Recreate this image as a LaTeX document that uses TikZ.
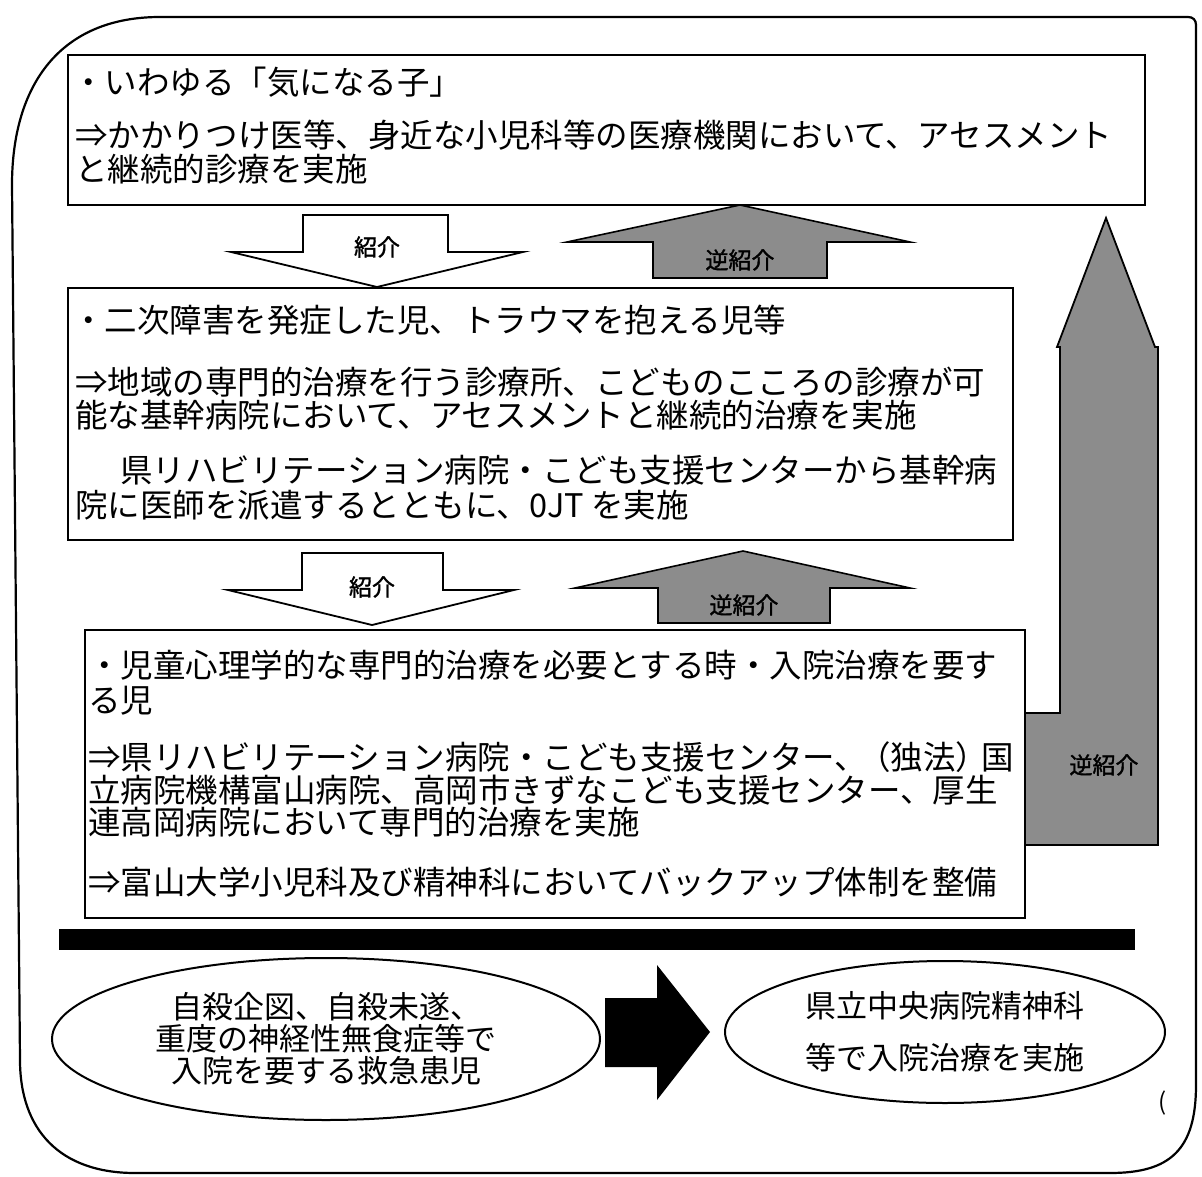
\documentclass[tikz,border=0pt]{standalone}
\usepackage{fontspec}
\setmainfont{Noto Sans CJK JP}
\newfontfamily\heavycjk{Noto Sans CJK JP}[FakeBold=1.5]
\usetikzlibrary{shapes.geometric}
\begin{document}
\begin{tikzpicture}[x=1pt,y=-1pt,
  boxframe/.style={draw, line width=2pt, inner sep=0pt, outer sep=0pt, anchor=north west},
  txt/.style={anchor=base west, inner sep=0pt, font=\fontsize{32.5}{34}\selectfont},
  grayarrow/.style={draw, line width=1.6pt, fill=black!45},
  whitearrow/.style={draw, line width=1.8pt, fill=white},
  lbl/.style={inner sep=0pt, font=\heavycjk\fontsize{23}{25}\selectfont},
  ovalbox/.style={draw, ellipse, line width=2pt, inner sep=0pt, align=center},
]
\useasboundingbox (0,0) rectangle (1202,1177);

% outer frame
\draw[line width=2.2pt] (1196,25) -- (1196,1085)
  .. controls (1196,1150) and (1170,1173) .. (1110,1173)
  -- (135,1173)
  .. controls (60,1173) and (20,1130) .. (20,1060)
  -- (12,185)
  .. controls (12,85) and (60,17) .. (160,17)
  -- (1188,17)
  .. controls (1193,17) and (1196,20) .. cycle;

% tall return arrow (behind box 3)
\draw[grayarrow, line width=1.8pt] (1025,845) -- (1025,713) -- (1060,713) -- (1060,347)
  -- (1057,347) -- (1106,218) -- (1155,347) -- (1158,347) -- (1158,845) -- cycle;
\node[lbl] (rl3) at (1104,765) {逆紹介};

% box 1
\node[boxframe, minimum width=1077pt, minimum height=150pt] (b1) at (68,55) {};
\node[txt] (b1l1) at (72,95) {・いわゆる「気になる子」};
\node[txt] (b1l2) at (75,148) {⇒かかりつけ医等、身近な小児科等の医療機関において、アセスメント};
\node[txt] (b1l3) at (75,182) {と継続的診療を実施};

% arrows between box 1 and box 2
\draw[whitearrow] (303,215) -- (448,215) -- (448,252) -- (523,252) -- (377,287)
  -- (231,252) -- (303,252) -- cycle;
\node[lbl] (ref1) at (377,247) {紹介};
\draw[grayarrow] (653,278) -- (653,242) -- (567,242) -- (740,205) -- (910,242)
  -- (827,242) -- (827,278) -- cycle;
\node[lbl] (rl1) at (740,260) {逆紹介};

% box 2
\node[boxframe, minimum width=945pt, minimum height=252pt] (b2) at (68,288) {};
\node[txt] (b2l1) at (72,332) {・二次障害を発症した児、トラウマを抱える児等};
\node[txt] (b2l2) at (75,394) {⇒地域の専門的治療を行う診療所、こどものこころの診療が可};
\node[txt] (b2l3) at (75,427) {能な基幹病院において、アセスメントと継続的治療を実施};
\node[txt] (b2l4) at (120,482) {県リハビリテーション病院・こども支援センターから基幹病};
\node[txt] (b2l5) at (75,517) {院に医師を派遣するとともに、0JT を実施};

% arrows between box 2 and box 3
\draw[whitearrow] (302,553) -- (443,553) -- (443,590) -- (514,590) -- (372,625)
  -- (228,590) -- (302,590) -- cycle;
\node[lbl] (ref2) at (372,587) {紹介};
\draw[grayarrow] (658,623) -- (658,588) -- (575,588) -- (743,551) -- (910,588)
  -- (830,588) -- (830,623) -- cycle;
\node[lbl] (rl2) at (744,605) {逆紹介};

% box 3
\node[boxframe, fill=white, minimum width=940pt, minimum height=288pt] (b3) at (85,630) {};
\node[txt] (b3l1) at (88,677) {・児童心理学的な専門的治療を必要とする時・入院治療を要す};
\node[txt] (b3l2) at (88,712) {る児};
\node[txt] (b3l3) at (88,769) {⇒県リハビリテーション病院・こども支援センター、\kern-9pt（独法）\kern-7pt国};
\node[txt] (b3l4) at (88,802) {立病院機構富山病院、高岡市きずなこども支援センター、厚生};
\node[txt] (b3l5) at (88,834) {連高岡病院において専門的治療を実施};
\node[txt] (b3l6) at (88,894) {⇒富山大学小児科及び精神科においてバックアップ体制を整備};

% black separator bar
\fill (59,929) rectangle (1135,950);

% emergency flow
\node[ovalbox, minimum width=548pt, minimum height=162pt,
  font=\fontsize{31}{32}\selectfont] (e1) at (326,1039)
  {自殺企図、自殺未遂、\\重度の神経性無食症等で\\入院を要する救急患児};
\node[ovalbox, minimum width=440pt, minimum height=142pt,
  font=\fontsize{31}{52}\selectfont] (e2) at (945,1032)
  {県立中央病院精神科\\等で入院治療を実施};
\fill (605,998) -- (657,998) -- (657,965) -- (710,1032) -- (657,1100)
  -- (657,1067) -- (605,1067) -- cycle;
\node[inner sep=0pt, font=\fontsize{24}{26}\selectfont] (mark) at (1163,1103) {(};
\end{tikzpicture}
\end{document}
